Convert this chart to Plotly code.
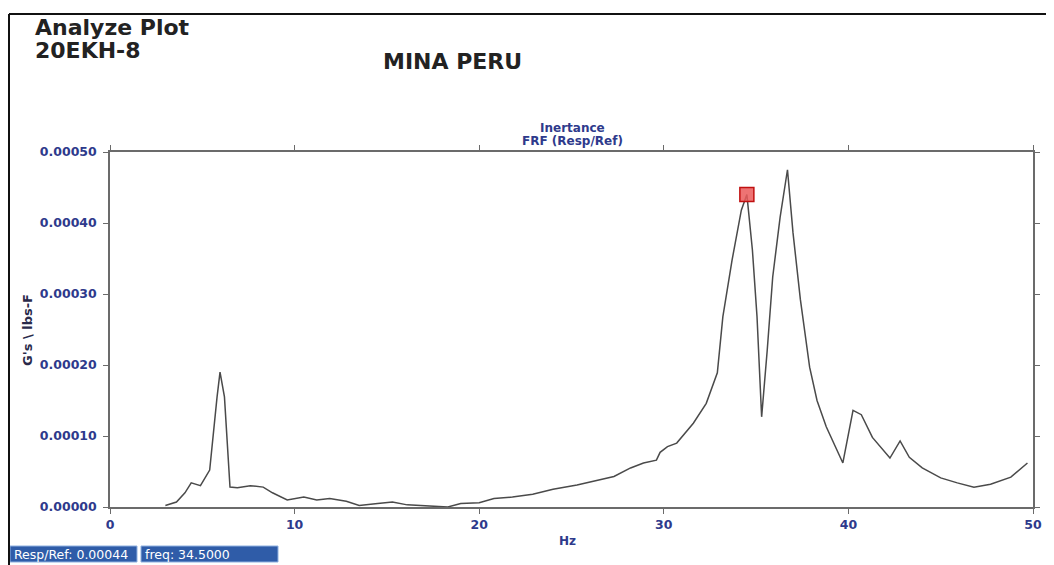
import plotly.graph_objects as go

freq_hz = [3.0, 3.6, 4.06, 4.4, 4.9, 5.4, 5.8, 5.96, 6.2, 6.5, 6.9, 7.6, 8.3, 8.8, 9.6,
           10.5, 11.2, 11.9, 12.8, 13.5, 14.5, 15.3, 16.1, 17.2, 18.3, 19.0, 20.0, 20.8,
           21.8, 22.9, 24.0, 25.3, 26.0, 27.3, 28.2, 28.9, 29.6, 29.8, 30.2, 30.7, 31.6,
           32.3, 32.9, 33.2, 33.7, 34.2, 34.5, 34.8, 35.05, 35.3, 35.6, 35.9, 36.3, 36.7,
           37.0, 37.4, 37.9, 38.3, 38.8, 39.7, 40.25, 40.7, 41.3, 42.25, 42.8, 43.3, 44.0,
           45.0, 45.9, 46.8, 47.7, 48.8, 49.7]
resp_ref = [0.000002, 0.000007, 0.000020, 0.000034, 0.000030, 0.000052, 0.000155, 0.000190,
            0.000155, 0.000028, 0.000027, 0.000030, 0.000028, 0.000020, 0.000010,
            0.000014, 0.000010, 0.000012, 0.000008, 0.000002, 0.000005, 0.000007, 0.000003,
            0.000001, 0.000000, 0.000005, 0.000006, 0.000012, 0.000014, 0.000018, 0.000025,
            0.000031, 0.000035, 0.000043, 0.000055, 0.000062, 0.000066, 0.000077, 0.000085,
            0.000090, 0.000118, 0.000146, 0.000189, 0.000268, 0.000348, 0.000418, 0.000440,
            0.000362, 0.000268, 0.000127, 0.000220, 0.000324, 0.000408, 0.000475, 0.000386,
            0.000292, 0.000197, 0.000150, 0.000113, 0.000062, 0.000136, 0.000130, 0.000098,
            0.000069, 0.000093, 0.000070, 0.000055, 0.000041, 0.000034, 0.000028, 0.000032,
            0.000042, 0.000062]
marker_freq = [34.5]
marker_val = [0.00044]
x_ticks = [0, 10, 20, 30, 40, 50]
y_ticks = [0.0, 0.0001, 0.0002, 0.0003, 0.0004, 0.0005]

BLUE = "#2e3a8c"
FONT = "DejaVu Sans"
OFF = 8  # page body margin offset

# plot area in screen pixels
PL, PR, PT, PB = 110, 1033, 152, 507

fig = go.Figure()
fig.add_trace(go.Scatter(x=freq_hz, y=resp_ref, mode="lines",
                         line=dict(color="#4a4a4a", width=1.5), showlegend=False))
fig.add_trace(go.Scatter(x=marker_freq, y=marker_val, mode="markers",
                         marker=dict(symbol="square", size=14, color="rgba(235,90,90,0.85)",
                                     line=dict(color="#c01010", width=1.5)),
                         showlegend=False))

axis_common = dict(showgrid=False, zeroline=False, showline=True, linecolor="#6b6b6b",
                   linewidth=1.5, ticks="outside", ticklen=5, tickcolor="#6b6b6b",
                   mirror="ticks",
                   tickfont=dict(family=FONT, size=12.5, color=BLUE, weight="bold"))

fig.update_xaxes(range=[0, 50], tickvals=x_ticks, ticktext=[str(v) for v in x_ticks],
                 **axis_common)
fig.update_yaxes(range=[0, 0.0005], tickvals=y_ticks, ticklabelstandoff=4,
                 ticktext=[f"{v:.5f}" for v in y_ticks], **axis_common)

def px_to_paper(px, py):
    return (px - PL) / float(PR - PL), (PB - py) / float(PB - PT)

annos = []
def add_text(text, px, py, size, color, xanchor="left", weight="bold", angle=0):
    xp, yp = px_to_paper(px, py)
    annos.append(dict(text=text, x=xp, y=yp, xref="paper", yref="paper",
                      xanchor=xanchor, yanchor="middle", showarrow=False, textangle=angle,
                      font=dict(family=FONT, size=size, color=color, weight=weight)))

add_text("Analyze Plot", 33, 27, 22, "#222222")
add_text("20EKH-8", 33, 51, 22, "#222222")
add_text("MINA PERU", 381, 62, 22, "#222222")
add_text("Inertance", 572, 128, 12, BLUE, xanchor="center")
add_text("FRF (Resp/Ref)", 572, 141, 12, BLUE, xanchor="center")
add_text("G's \\ lbs-F", 27, 330, 13, "#2a2a4a", xanchor="center", angle=-90)
add_text("Hz", 567, 541, 12, BLUE, xanchor="center")

shapes = []
for (x0, x1, txt) in [(10, 137, "Resp/Ref: 0.00044"), (141, 278, "freq: 34.5000")]:
    a0, b0 = px_to_paper(x0, 562)
    a1, b1 = px_to_paper(x1, 546)
    shapes.append(dict(type="rect", xref="paper", yref="paper", x0=a0, x1=a1, y0=b0, y1=b1,
                       fillcolor="#2f5ca8", line=dict(color="#8fb0e0", width=1)))
    add_text(txt, x0 + 2, 554, 12.5, "white", weight="normal")

l0, t0 = px_to_paper(9, 14)
r0, bt = px_to_paper(1060, 570)
shapes.append(dict(type="line", xref="paper", yref="paper", x0=l0, x1=r0, y0=t0, y1=t0,
                   line=dict(color="#111111", width=2)))
shapes.append(dict(type="line", xref="paper", yref="paper", x0=l0, x1=l0, y0=t0, y1=bt,
                   line=dict(color="#111111", width=2)))

fig.update_layout(width=1054, height=565,
                  margin=dict(l=PL - OFF, r=1054 - (PR - OFF), t=PT - OFF, b=565 - (PB - OFF)),
                  plot_bgcolor="white", paper_bgcolor="white",
                  annotations=annos, shapes=shapes)

fig.write_html("out.html")
